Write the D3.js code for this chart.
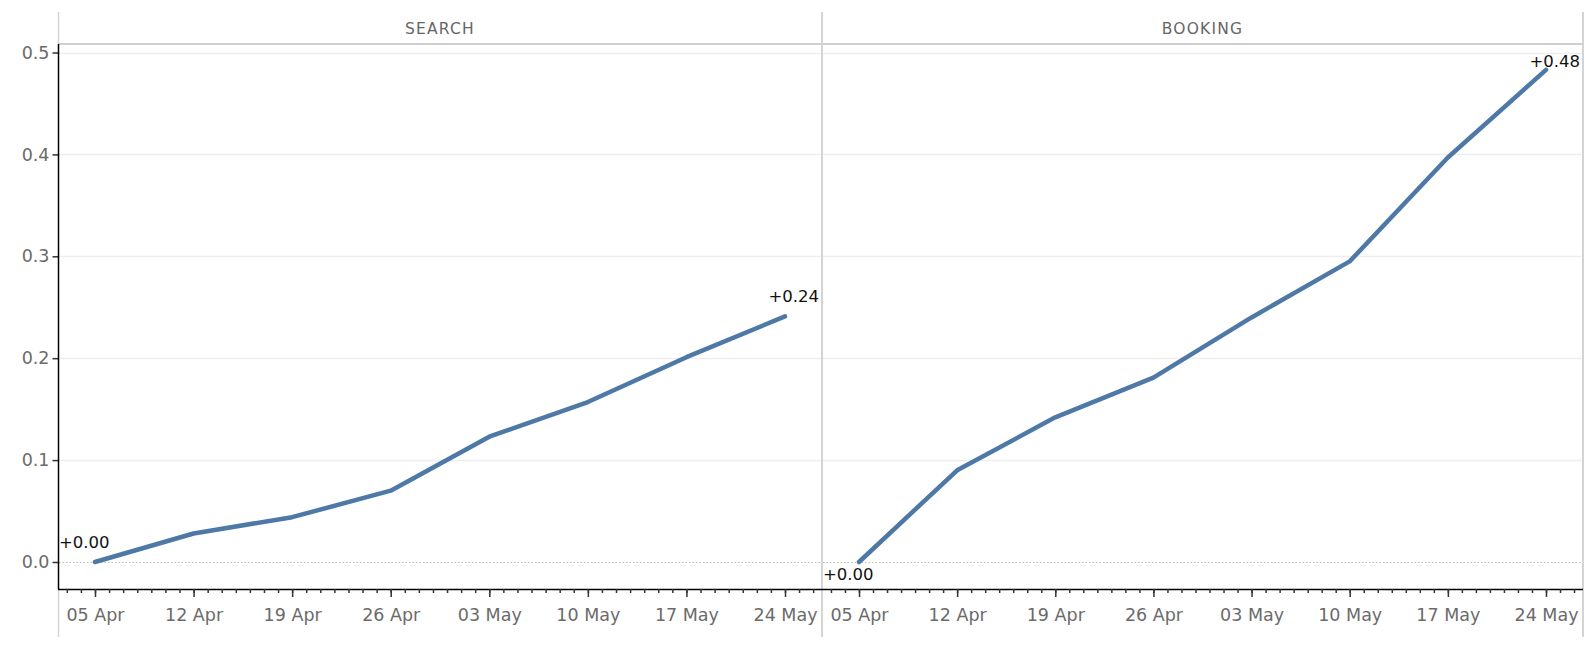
<!DOCTYPE html>
<html>
<head>
<meta charset="utf-8">
<script src="https://cdn.jsdelivr.net/npm/d3@7"></script>
<style>
  html, body { margin: 0; padding: 0; background: #fff; }
  svg { display: block; }
  text { font-family: "DejaVu Sans", sans-serif; }
</style>
</head>
<body>
<svg id="chart" width="1594" height="646"></svg>
<script>
// ---------------- DATA ----------------
const panels = ["SEARCH", "BOOKING"];
const weeks = ["2020-04-05", "2020-04-12", "2020-04-19", "2020-04-26",
               "2020-05-03", "2020-05-10", "2020-05-17", "2020-05-24"];
const searchValues  = [0.000, 0.028, 0.044, 0.070, 0.123, 0.157, 0.201, 0.241];
const bookingValues = [0.000, 0.090, 0.142, 0.181, 0.240, 0.295, 0.397, 0.483];
const yTicks = [0, 0.1, 0.2, 0.3, 0.4, 0.5];

// ---------------- LAYOUT ----------------
const W = 1594, H = 646;
const headerTop = 12, paneTop = 44, axisY = 589, bottomEnd = 637;
const paneEdges = [[58, 822], [822, 1583]];
const xPad = 37;
const lineColor = "#4e79a7";
const tickFont = "17.5px";

const parseDate = d3.timeParse("%Y-%m-%d");
const dates = weeks.map(parseDate);
const seriesList = [searchValues, bookingValues];

const svg = d3.select("#chart");

const y = d3.scaleLinear().domain([0, 0.5]).range([562, 52.5]);

// gridlines & zero line per pane
panels.forEach((name, i) => {
  const [L, R] = paneEdges[i];
  const g = svg.append("g");
  g.selectAll("line.grid").data(yTicks.filter(t => t > 0)).join("line")
    .attr("x1", L + 1).attr("x2", R)
    .attr("y1", d => Math.round(y(d)) + 0.5).attr("y2", d => Math.round(y(d)) + 0.5)
    .attr("stroke", "#eeeeee").attr("stroke-width", 1.5);
  g.append("line")
    .attr("x1", L + 1).attr("x2", R)
    .attr("y1", Math.round(y(0)) + 0.5).attr("y2", Math.round(y(0)) + 0.5)
    .attr("stroke", "#bdbdbd").attr("stroke-width", 1)
    .attr("stroke-dasharray", "1.5,2");
});

// header bottom line
svg.append("line").attr("x1", 58).attr("x2", 1583).attr("y1", 44).attr("y2", 44)
  .attr("stroke", "#cfcfcf").attr("stroke-width", 2);

// vertical separators
[822, 1583].forEach(x => {
  svg.append("line").attr("x1", x).attr("x2", x).attr("y1", headerTop).attr("y2", bottomEnd)
    .attr("stroke", "#d4d4d4").attr("stroke-width", 2);
});
svg.append("line").attr("x1", 58.5).attr("x2", 58.5).attr("y1", headerTop).attr("y2", paneTop)
  .attr("stroke", "#d4d4d4").attr("stroke-width", 1.5);
svg.append("line").attr("x1", 58.5).attr("x2", 58.5).attr("y1", axisY).attr("y2", bottomEnd)
  .attr("stroke", "#d4d4d4").attr("stroke-width", 1.5);

// headers
panels.forEach((name, i) => {
  const [L, R] = paneEdges[i];
  svg.append("text").attr("x", (L + R) / 2).attr("y", 33.5)
    .attr("text-anchor", "middle").attr("fill", "#666")
    .style("font-size", "15.5px").style("letter-spacing", "1.2px")
    .text(name);
});

// y axis
const yAxis = d3.axisLeft(y).tickValues(yTicks).tickFormat(d3.format(".1f"))
  .tickSize(6).tickPadding(3);
const yg = svg.append("g").attr("transform", "translate(58.5,0)").call(yAxis);
yg.select(".domain").remove();
yg.selectAll(".tick line").attr("stroke", "#333").attr("stroke-width", 1.5);
yg.selectAll(".tick text").attr("fill", "#6b6b6b").style("font-size", tickFont)
  .style("font-family", "'DejaVu Sans', sans-serif");
svg.append("line").attr("x1", 58.5).attr("x2", 58.5).attr("y1", paneTop).attr("y2", axisY)
  .attr("stroke", "#000").attr("stroke-width", 1.5);

// x axis line
svg.append("line").attr("x1", 58).attr("x2", 1583).attr("y1", axisY + 0.5).attr("y2", axisY + 0.5)
  .attr("stroke", "#000").attr("stroke-width", 1.5);

const fmtLabel = d3.format("+.2f");
const line = d3.line();

panels.forEach((name, i) => {
  const [L, R] = paneEdges[i];
  const x = d3.scaleTime().domain([dates[0], dates[dates.length - 1]]).range([L + xPad, R - xPad]);
  const lo = x.invert(L + 2), hi = x.invert(R - 2);

  // minor daily ticks
  const days = d3.timeDay.range(d3.timeDay.ceil(lo), hi);
  const minor = d3.axisBottom(x).tickValues(days).tickSize(4).tickFormat("");
  const mg = svg.append("g").attr("transform", `translate(0,${axisY})`).call(minor);
  mg.select(".domain").remove();
  mg.selectAll(".tick line").attr("stroke", "#333").attr("stroke-width", 1.5);

  // major weekly ticks with labels
  const major = d3.axisBottom(x).tickValues(dates).tickSize(8).tickPadding(11.5)
    .tickFormat(d3.timeFormat("%d %b"));
  const ag = svg.append("g").attr("transform", `translate(0,${axisY})`).call(major);
  ag.select(".domain").remove();
  ag.selectAll(".tick line").attr("stroke", "#333").attr("stroke-width", 1.5);
  ag.selectAll(".tick text").attr("fill", "#6b6b6b").style("font-size", tickFont)
    .style("font-family", "'DejaVu Sans', sans-serif");

  // line
  const vals = seriesList[i];
  const pts = dates.map((d, k) => [x(d), y(vals[k])]);
  svg.append("path").attr("d", line(pts)).attr("fill", "none")
    .attr("stroke", lineColor).attr("stroke-width", 4.5)
    .attr("stroke-linejoin", "round").attr("stroke-linecap", "round");

  // start & end labels
  const n = pts.length;
  const startSlope = (pts[0][1] - pts[1][1]) / (pts[1][0] - pts[0][0]);
  const labels = [
    { p: pts[0], v: vals[0], anchor: "end", dx: 13, dy: startSlope > 0.6 ? 18 : -14 },
    { p: pts[n - 1], v: vals[n - 1], anchor: "start", dx: -15, dy: -14 }
  ];
  labels.forEach(lb => {
    const t = svg.append("text").attr("fill", "#111").style("font-size", "16.5px")
      .text(fmtLabel(lb.v));
    const w = t.node().getComputedTextLength();
    let left = lb.anchor === "end" ? lb.p[0] + lb.dx - w : lb.p[0] + lb.dx;
    left = Math.max(L + 1, Math.min(R - 3 - w, left));
    let base = lb.p[1] + lb.dy;
    base = Math.max(paneTop + 23, Math.min(axisY - 8, base));
    t.attr("x", left).attr("y", base);
  });
});
</script>
</body>
</html>
